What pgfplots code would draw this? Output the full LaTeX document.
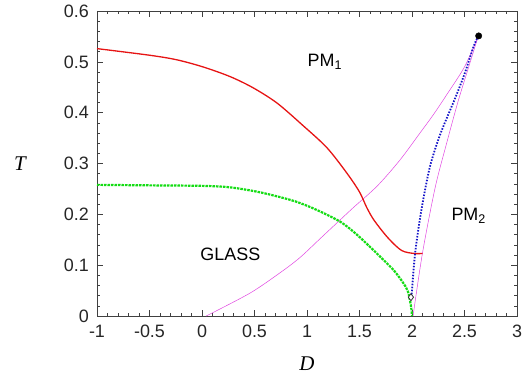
\documentclass[border=0pt]{standalone}
\usepackage{pgfplots}
\pgfplotsset{compat=1.18}
\usepackage{fontspec}
\setmainfont{Liberation Sans}
\newfontfamily\serifit{Liberation Serif}
\definecolor{myred}{RGB}{230,20,20}
\definecolor{mygreen}{RGB}{20,220,20}
\definecolor{myblue}{RGB}{20,20,200}
\definecolor{mymag}{RGB}{225,70,225}
\begin{document}
\fontsize{18}{21}\selectfont
\begin{tikzpicture}
\begin{axis}[
  at={(97bp,66bp)}, anchor=south west,
  scale only axis, width=420bp, height=305bp,
  xmin=-1, xmax=3, ymin=0, ymax=0.6,
  xtick={-1,-0.5,0,0.5,1,1.5,2,2.5,3},
  xticklabels={-1,-0.5,0,0.5,1,1.5,2,2.5,3},
  ytick={0,0.1,0.2,0.3,0.4,0.5,0.6},
  yticklabels={0,0.1,0.2,0.3,0.4,0.5,0.6},
  minor x tick num=4, minor y tick num=4,
  tick align=inside, tick pos=both,
  major tick length=6bp, minor tick length=3bp,
  axis line style={line width=0.8bp, black!75},
  every tick/.style={black!75, line width=0.6bp},
  tick label style={font=\fontsize{18}{21}\selectfont, text=black!85},
  xticklabel style={yshift=-3bp},
  yticklabel style={xshift=-2bp},
  clip=false,
]
% magenta curve from (0,0)
\addplot[mymag, line width=0.5bp, smooth] coordinates {
 (0.04,0) (0.457,0.045) (0.743,0.085) (0.933,0.115) (1.124,0.152) (1.30,0.186) (1.44,0.213) (1.67,0.256)
 (1.886,0.307) (2.076,0.36) (2.20,0.395) (2.32,0.432) (2.50,0.49) (2.63,0.55)};
% magenta line from (2,0)
\addplot[mymag, line width=0.5bp, smooth] coordinates {
 (2.01,0) (2.10,0.124) (2.22,0.252) (2.33,0.34) (2.44,0.423) (2.54,0.49) (2.63,0.55)};
% red
\addplot[myred, line width=1.3bp, smooth] coordinates {
 (-1,0.526) (-0.5,0.513) (-0.24,0.504) (0.01,0.49) (0.267,0.471) (0.486,0.449) (0.714,0.419)
 (0.96,0.375) (1.19,0.331) (1.38,0.281) (1.50,0.244) (1.57,0.213) (1.64,0.188) (1.77,0.154)
 (1.90,0.129) (2.02,0.123) (2.10,0.123)};
% green
\addplot[mygreen, line width=2.2bp, dash pattern=on 2.5bp off 1bp, smooth] coordinates {
 (-1,0.258) (-0.5,0.257) (0,0.256) (0.27,0.253) (0.56,0.243) (0.88,0.226) (1.1,0.208) (1.32,0.185)
 (1.47,0.161) (1.61,0.134) (1.73,0.11) (1.83,0.089) (1.91,0.067) (1.96,0.049) (1.99,0.02) (2.0,0)};
% blue
\addplot[myblue, line width=1.8bp, dash pattern=on 1.5bp off 1.5bp, smooth] coordinates {
 (1.995,0.037) (2.03,0.124) (2.09,0.209) (2.17,0.293) (2.27,0.358) (2.41,0.428)
 (2.50,0.476) (2.59,0.532) (2.63,0.55)};
% diamond
\addplot[only marks, mark=diamond*, mark size=3.5bp, mark options={fill=white, draw=black!80, line width=0.8bp}] coordinates {(1.99,0.037)};
% black dot
\addplot[only marks, mark=*, mark size=3.2bp, black] coordinates {(2.635,0.551)};
\node at (axis cs:1.17,0.50) {PM\textsubscript{1}};
\node at (axis cs:2.54,0.197) {PM\textsubscript{2}};
\node at (axis cs:0.27,0.122) {GLASS};
\node[font=\serifit\itshape\fontsize{21}{25}\selectfont] at ([xshift=-77bp]axis description cs:0,0.5) {T};
\node[font=\serifit\itshape\fontsize{21}{25}\selectfont] at ([yshift=-48bp]axis description cs:0.5,0) {D};
\end{axis}
\pgfresetboundingbox
\path (0,0) rectangle (522bp,382bp);
\end{tikzpicture}
\end{document}
